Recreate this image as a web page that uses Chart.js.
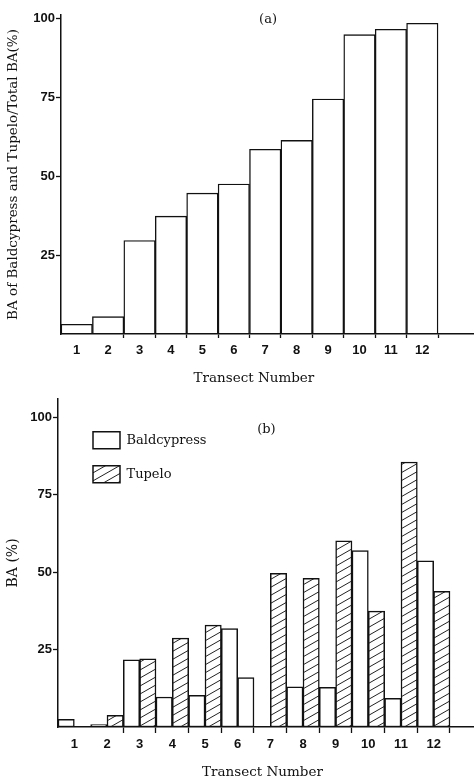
<!DOCTYPE html>
<html><head><meta charset="utf-8">
<script src="https://cdn.jsdelivr.net/npm/chart.js@4"></script>
<style>
html,body{margin:0;padding:0;background:#fff;}
#wrap{position:relative;width:474px;height:781px;overflow:hidden;}
.pane{position:absolute;left:0;width:474px;}
</style></head><body>
<div id="wrap">
  <div class="pane" style="top:0;height:390px"><canvas id="c1" width="474" height="390"></canvas></div>
  <div class="pane" style="top:390px;height:391px"><canvas id="c2" width="474" height="391"></canvas></div>
</div>
<script>
// ---------- data ----------
const transects = [1, 2, 3, 4, 5, 6, 7, 8, 9, 10, 11, 12];
// (a) BA of Baldcypress and Tupelo / Total BA (%)
const combinedShare = [3.1, 5.5, 29.6, 37.3, 44.6, 47.5, 58.5, 61.3, 74.4, 94.8, 96.5, 98.4];
// (b) BA (%)
const baldcypress = [2.5, 0.8, 21.7, 9.7, 10.2, 31.8, 0, 13.0, 12.8, 57.0, 9.3, 53.7];
const tupelo      = [0, 3.8, 22.0, 28.7, 32.9, 16.0, 49.6, 48.0, 60.1, 37.4, 85.6, 43.8];
const seriesNames = ['Baldcypress', 'Tupelo'];
const yTickValues = [25, 50, 75, 100];

// ---------- styling ----------
const INK = '#111';
const SANS = { family: '"Liberation Sans", Arial, Helvetica, sans-serif', size: 13, weight: 'bold' };
const SERIF = '"DejaVu Serif", "Liberation Serif", serif';

function makeHatch() {
  const w = 14, h = 8;
  const c = document.createElement('canvas');
  c.width = w; c.height = h;
  const g = c.getContext('2d');
  g.fillStyle = '#fff'; g.fillRect(0, 0, w, h);
  g.strokeStyle = '#222'; g.lineWidth = 1;
  for (const off of [-h, 0, h]) {
    g.beginPath(); g.moveTo(0, h + off); g.lineTo(w, off); g.stroke();
  }
  return g.createPattern(c, 'repeat');
}
const hatch = makeHatch();
// the original figure prints transect 6's tupelo bar without hatching
const tupeloFill = tupelo.map((v, i) => (transects[i] === 6 ? '#fff' : hatch));

// text annotations positioned through the scales
const annot = {
  id: 'annot',
  afterDraw(chart, args, opts) {
    const { ctx } = chart;
    const xs = chart.scales.x, ys = chart.scales.y;
    ctx.save();
    ctx.fillStyle = INK; ctx.textAlign = 'center'; ctx.textBaseline = 'middle';
    for (const t of opts.items || []) {
      ctx.font = t.font;
      const x = xs.getPixelForValue(t.x);
      const y = t.y !== undefined ? ys.getPixelForValue(t.y) : chart.chartArea.bottom + t.dy;
      ctx.fillText(t.text, x, y);
    }
    ctx.restore();
  }
};
// place the chartArea legend at the figure's inset position
const legendShift = {
  id: 'legendShift',
  beforeDraw(chart, args, opts) {
    const lg = chart.legend; if (!lg) return;
    lg.left = chart.chartArea.left + opts.dx;
    lg.top = chart.chartArea.top + opts.dy;
  }
};

function xScale(max, tickLen, pad, axisHeight, firstBoundary) {
  return {
    type: 'linear', min: 0.5, max: max, offset: false,
    afterBuildTicks: (s) => {
      const labelTicks = transects.map(v => ({ value: v }));
      const edgeTicks = transects.filter(v => v >= firstBoundary).map(v => ({ value: v + 0.5 }));
      s.ticks = labelTicks.concat(edgeTicks);
    },
    afterFit: (s) => { s.height = axisHeight; },
    grid: {
      offset: false, drawOnChartArea: false, tickLength: tickLen, tickWidth: 1.3,
      tickColor: (c) => (c.tick && Number.isInteger(c.tick.value) ? 'rgba(0,0,0,0)' : INK)
    },
    border: { display: true, color: INK, width: 1.5 },
    ticks: {
      autoSkip: false, maxRotation: 0, minRotation: 0, padding: pad, color: INK, font: SANS,
      callback: (v) => (transects.includes(v) ? String(v) : '')
    }
  };
}
function yScale(max, title, titleSize) {
  return {
    type: 'linear', min: 0, max: max,
    afterBuildTicks: (s) => { s.ticks = yTickValues.map(v => ({ value: v })); },
    afterFit: (s) => { s.width = s.chart.canvas.id === 'c1' ? 61 : 58; },
    grid: { drawOnChartArea: false, tickLength: 5, tickWidth: 1.3, color: INK },
    border: { display: true, color: INK, width: 1.5 },
    ticks: { padding: 1, color: INK, font: SANS },
    title: { display: true, text: title, color: INK, font: { family: SERIF, size: titleSize }, padding: { top: 5, bottom: 0 } }
  };
}

// ---------- (a) ----------
new Chart(document.getElementById('c1'), {
  type: 'bar',
  data: {
    labels: transects,
    datasets: [{
      label: 'Baldcypress and Tupelo', data: combinedShare,
      backgroundColor: '#fff', borderColor: INK, borderWidth: 1.4, borderSkipped: false,
      barPercentage: 1, categoryPercentage: 1
    }]
  },
  options: {
    responsive: false, animation: false, devicePixelRatio: 1,
    layout: { padding: { top: 15, left: 0, right: 0, bottom: 0 } },
    plugins: {
      legend: { display: false }, tooltip: { enabled: false },
      annot: { items: [
        { text: '(a)', x: 7.09, y: 99.4, font: '13px ' + SERIF },
        { text: 'Transect Number', x: 6.64, dy: 44, font: '13.5px ' + SERIF }
      ] }
    },
    scales: {
      x: xScale(13.645, 4, 5, 56, 2),
      y: yScale(101, 'BA of Baldcypress and Tupelo/Total BA(%)', 13.5)
    }
  },
  plugins: [annot]
});

// ---------- (b) ----------
new Chart(document.getElementById('c2'), {
  type: 'bar',
  data: {
    labels: transects,
    datasets: [
      { label: seriesNames[0], data: baldcypress, backgroundColor: '#fff', borderColor: INK,
        borderWidth: 1.5, borderSkipped: false, barPercentage: 1, categoryPercentage: 1 },
      { label: seriesNames[1], data: tupelo, backgroundColor: tupeloFill, borderColor: INK,
        borderWidth: 1.5, borderSkipped: false, barPercentage: 1, categoryPercentage: 1 }
    ]
  },
  options: {
    responsive: false, animation: false, devicePixelRatio: 1,
    layout: { padding: { top: 3, left: 0, right: 0, bottom: 0 } },
    plugins: {
      tooltip: { enabled: false },
      legend: {
        display: true, position: 'chartArea', align: 'start',
        labels: { boxWidth: 27, boxHeight: 17, padding: 17, color: INK, font: { family: SERIF, size: 13 } }
      },
      legendShift: { dx: 18, dy: 16 },
      annot: { items: [
        { text: '(b)', x: 6.88, y: 96.2, font: '13px ' + SERIF },
        { text: 'Transect Number', x: 6.76, dy: 45, font: '13.5px ' + SERIF }
      ] }
    },
    scales: {
      x: xScale(13.235, 6, 4, 54, 2),
      y: yScale(106, 'BA (%)', 14)
    }
  },
  plugins: [annot, legendShift]
});
</script>
</body></html>
